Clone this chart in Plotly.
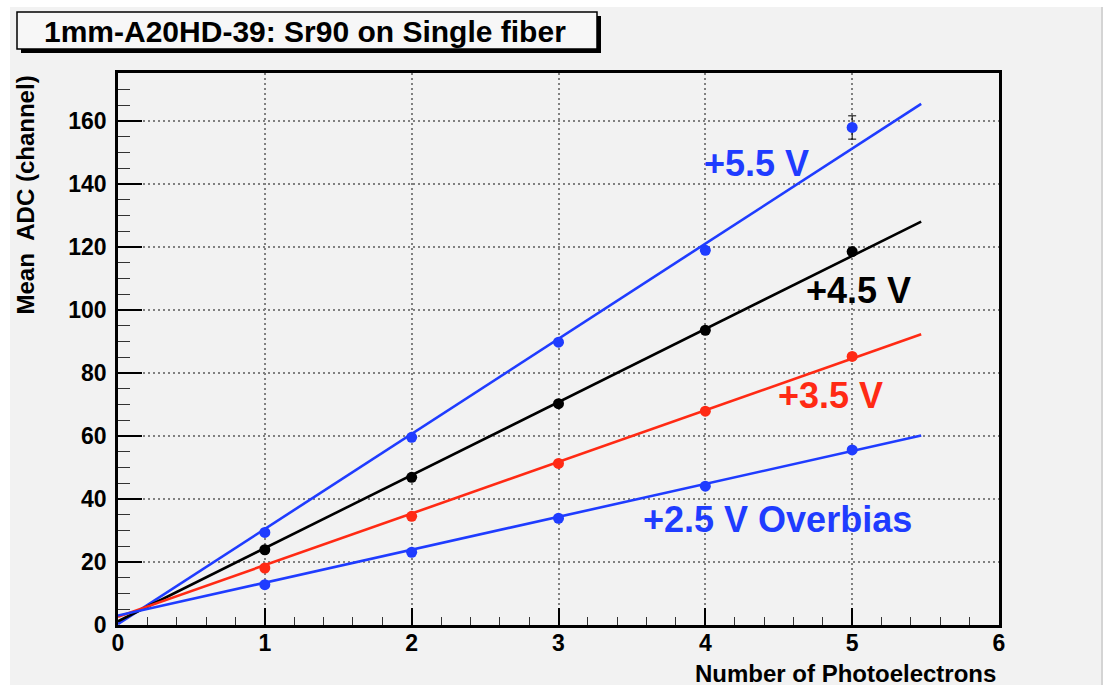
import plotly.graph_objects as go

# ---- data -------------------------------------------------------------
npe = [1, 2, 3, 4, 5]                       # number of photoelectrons
adc_55 = [29.4, 59.6, 89.8, 119.0, 158.0]   # +5.5 V
adc_45 = [23.9, 46.9, 70.3, 93.6, 118.6]    # +4.5 V
adc_35 = [18.1, 34.5, 51.3, 67.9, 85.3]     # +3.5 V
adc_25 = [12.8, 23.1, 33.9, 44.1, 55.6]     # +2.5 V overbias
err_55 = [0.6, 0.7, 0.8, 0.9, 3.7]
err_45 = [0.5, 0.6, 0.7, 0.8, 0.9]
err_35 = [0.4, 0.5, 0.6, 0.7, 0.8]
err_25 = [0.3, 0.4, 0.5, 0.6, 0.7]

# linear fits (slope, intercept) and the range they are drawn over
fit_slope = [30.2, 23.2, 16.4, 10.45]
fit_icpt = [0.3, 1.2, 2.6, 3.0]
fit_range = [0.0, 5.47]

labels = ["+5.5 V", "+4.5 V", "+3.5 V", "+2.5 V Overbias"]
label_x = [4.35, 5.04, 4.85, 4.49]
label_y = [146.5, 106.3, 73.0, 33.6]

x_ticks = [0, 1, 2, 3, 4, 5, 6]
y_ticks = [0, 20, 40, 60, 80, 100, 120, 140, 160]

title_text = "1mm-A20HD-39: Sr90 on Single fiber"
x_title = "Number of Photoelectrons"
y_title = "Mean  ADC (channel)"

# ---- styling ----------------------------------------------------------
BLUE = "#1f3cff"
RED = "#ff2a14"
BLACK = "#000000"
colors = [BLUE, BLACK, RED, BLUE]
FONT = "Liberation Sans, Arial, Helvetica, sans-serif"

W, H = 1106, 690
ML, MR, MT, MB = 118, 107, 73, 65
PW, PH = W - ML - MR, H - MT - MB


def px(x):
    return (x - ML) / PW


def py(y):
    return (H - MB - y) / PH


fig = go.Figure()

series = [adc_55, adc_45, adc_35, adc_25]
errors = [err_55, err_45, err_35, err_25]

for k in range(4):
    fx = fit_range
    fy = [fit_slope[k] * v + fit_icpt[k] for v in fx]
    fig.add_trace(go.Scatter(
        x=fx, y=fy, mode="lines",
        line=dict(color=colors[k], width=2.6),
        hoverinfo="skip", showlegend=False,
    ))

for k in range(4):
    fig.add_trace(go.Scatter(
        x=npe, y=series[k], mode="markers",
        marker=dict(color=colors[k], size=11),
        error_y=dict(type="data", array=errors[k], color=BLACK,
                     thickness=1, width=4),
        showlegend=False,
    ))

for k in range(4):
    fig.add_annotation(
        x=label_x[k], y=label_y[k], xref="x", yref="y",
        text="<b>%s</b>" % labels[k], showarrow=False,
        font=dict(family=FONT, size=36, color=colors[k]),
        xanchor="center", yanchor="middle",
    )

# canvas: light grey pad inside a thin white frame
shapes = [
    dict(type="rect", xref="paper", yref="paper", layer="below",
         x0=px(10), x1=px(1102), y0=py(685), y1=py(7),
         fillcolor="#f2f2f2", line=dict(width=0)),
    dict(type="line", xref="paper", yref="paper", layer="below",
         x0=px(1102), x1=px(1102), y0=py(685), y1=py(7),
         line=dict(color="#d4d4d4", width=2)),
    # title box with drop shadow
    dict(type="rect", xref="paper", yref="paper", layer="above",
         x0=px(21), x1=px(601), y0=py(53), y1=py(16),
         fillcolor=BLACK, line=dict(width=0)),
    dict(type="rect", xref="paper", yref="paper", layer="above",
         x0=px(17), x1=px(597), y0=py(49), y1=py(12),
         fillcolor="#f7f7f7", line=dict(color=BLACK, width=1.5)),
]

fig.add_annotation(
    x=px(305), y=py(31), xref="paper", yref="paper",
    text="<b>%s</b>" % title_text, showarrow=False,
    font=dict(family=FONT, size=30, color=BLACK),
    xanchor="center", yanchor="middle",
)
fig.add_annotation(
    x=px(998), y=py(673), xref="paper", yref="paper",
    text="<b>%s</b>" % x_title, showarrow=False,
    font=dict(family=FONT, size=24, color=BLACK),
    xanchor="right", yanchor="middle",
)
fig.add_annotation(
    x=px(25), y=py(74), xref="paper", yref="paper",
    text="<b>%s</b>" % y_title, showarrow=False, textangle=-90,
    font=dict(family=FONT, size=24, color=BLACK),
    xanchor="center", yanchor="top",
)

axis_common = dict(
    showline=True, linecolor=BLACK, linewidth=2.5, mirror=True,
    ticks="inside", tickcolor=BLACK, tickwidth=1.5,
    showgrid=True, gridcolor="#808080", griddash="2px,3px", gridwidth=1.5,
    zeroline=False,
    tickfont=dict(family=FONT, size=23, color=BLACK),
)

fig.update_xaxes(
    **axis_common, range=[0, 6], tickmode="array", tickvals=x_ticks,
    ticktext=["<b>%d</b>" % v for v in x_ticks], ticklen=17,
    ticklabelstandoff=-4,
    minor=dict(ticks="inside", ticklen=8, dtick=0.2, tickcolor="#333333",
               tickwidth=1, showgrid=False),
)
fig.update_yaxes(
    **axis_common, range=[0, 175.3], tickmode="array", tickvals=y_ticks,
    ticktext=["<b>%d</b>" % v for v in y_ticks], ticklen=24,
    ticklabelstandoff=4,
    minor=dict(ticks="inside", ticklen=12, dtick=5, tickcolor="#333333",
               tickwidth=1, showgrid=False),
)

fig.update_layout(
    width=W, height=H,
    margin=dict(l=ML, r=MR, t=MT, b=MB, pad=0),
    paper_bgcolor="white", plot_bgcolor="rgba(0,0,0,0)",
    shapes=shapes, showlegend=False,
    font=dict(family=FONT),
)

fig.write_html("out.html")
